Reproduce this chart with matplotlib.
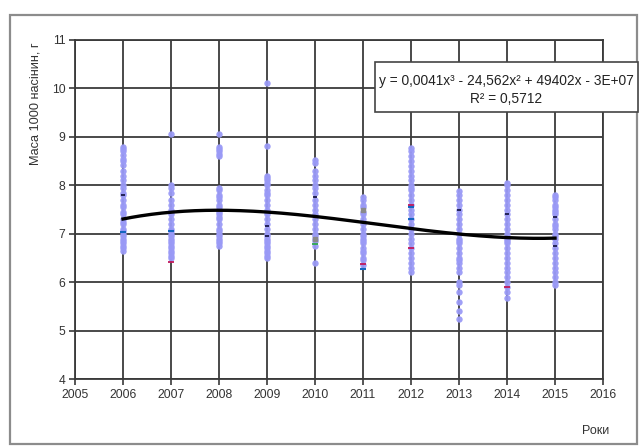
import numpy as np
import matplotlib
matplotlib.use("Agg")
import matplotlib.pyplot as plt
from matplotlib.patches import Rectangle

plt.rcParams['font.family'] = ['Liberation Sans', 'DejaVu Sans']

years = [2006, 2007, 2008, 2009, 2010, 2011, 2012, 2013, 2014, 2015]
mass = {
    2006: [8.8, 8.75, 8.7, 8.62, 8.55, 8.5, 8.42, 8.3, 8.2, 8.1, 8.0, 7.95, 7.85, 7.8, 7.7, 7.6,
           7.55, 7.45, 7.4, 7.3, 7.25, 7.2, 7.1, 7.05, 7.0, 6.95, 6.9, 6.85, 6.8, 6.75, 6.7, 6.65],
    2007: [9.05, 8.0, 7.95, 7.85, 7.7, 7.6, 7.5, 7.45, 7.4, 7.3, 7.2, 7.1, 7.05, 7.0, 6.95, 6.9,
           6.85, 6.8, 6.75, 6.7, 6.65, 6.6, 6.55, 6.5],
    2008: [9.05, 8.8, 8.75, 8.7, 8.65, 8.6, 7.95, 7.9, 7.8, 7.75, 7.7, 7.6, 7.55, 7.5, 7.45, 7.4,
           7.35, 7.3, 7.2, 7.1, 7.05, 7.0, 6.95, 6.9, 6.85, 6.8, 6.75],
    2009: [10.12, 8.82, 8.2, 8.15, 8.1, 8.05, 8.0, 7.9, 7.85, 7.8, 7.7, 7.6, 7.5, 7.45, 7.4, 7.3,
           7.2, 7.1, 7.0, 6.95, 6.9, 6.85, 6.8, 6.75, 6.7, 6.65, 6.6, 6.55, 6.5],
    2010: [8.52, 8.45, 8.3, 8.2, 8.1, 8.0, 7.95, 7.85, 7.7, 7.6, 7.5, 7.4, 7.3, 7.2, 7.1, 7.0,
           6.95, 6.9, 6.85, 6.75, 6.4],
    2011: [7.76, 7.7, 7.6, 7.55, 7.45, 7.4, 7.3, 7.2, 7.1, 7.0, 6.95, 6.9, 6.85, 6.8, 6.7, 6.65,
           6.6, 6.5, 6.45, 6.35],
    2012: [8.77, 8.7, 8.6, 8.5, 8.4, 8.3, 8.2, 8.1, 8.0, 7.95, 7.9, 7.8, 7.7, 7.6, 7.5, 7.4, 7.3,
           7.2, 7.1, 7.0, 6.9, 6.8, 6.7, 6.6, 6.5, 6.4, 6.3, 6.2],
    2013: [7.89, 7.8, 7.7, 7.6, 7.5, 7.4, 7.3, 7.2, 7.1, 7.0, 6.9, 6.85, 6.8, 6.7, 6.6, 6.5, 6.45,
           6.4, 6.3, 6.2, 6.0, 5.95, 5.8, 5.6, 5.4, 5.23],
    2014: [8.05, 8.0, 7.9, 7.8, 7.7, 7.6, 7.5, 7.4, 7.3, 7.2, 7.1, 7.0, 6.9, 6.85, 6.8, 6.7, 6.6,
           6.5, 6.4, 6.3, 6.2, 6.1, 6.0, 5.9, 5.8, 5.68],
    2015: [7.8, 7.75, 7.7, 7.6, 7.55, 7.5, 7.45, 7.4, 7.3, 7.2, 7.15, 7.1, 7.0, 6.95, 6.9, 6.8,
           6.7, 6.6, 6.5, 6.4, 6.3, 6.2, 6.1, 6.0, 5.95],
}

# accent series (other varieties)
blue_x = [2006, 2007, 2011, 2012, 2012]
blue_y = [7.04, 7.05, 6.27, 7.3, 7.55]
red_x = [2007, 2011, 2012, 2014, 2012]
red_y = [6.42, 6.38, 6.7, 5.9, 7.6]
dark_x = [2006, 2009, 2009, 2010, 2013, 2014, 2015, 2015]
dark_y = [7.8, 7.15, 6.95, 7.75, 7.5, 7.4, 6.75, 7.35]
green_x = [2010]
green_y = [6.78]
gray_x = [2011, 2010]
gray_y = [7.5, 6.9]

# polynomial trend
trend_years = [2006, 2007, 2008, 2009, 2010, 2011, 2012, 2013, 2014, 2015]
trend_vals = [7.31, 7.43, 7.49, 7.45, 7.36, 7.23, 7.11, 6.99, 6.92, 6.91]

equation = "y = 0,0041x³ - 24,562x² + 49402x - 3E+07"
r2_text = "R² = 0,5712"

W, H = 639, 448
fig = plt.figure(figsize=(W / 100, H / 100), dpi=100)
fig.patch.set_facecolor('white')

# outer chart frame
fig.patches.append(Rectangle((10 / W, 1 - 444 / H), 627 / W, 429 / H, transform=fig.transFigure,
                             fill=False, edgecolor='#8c8c8c', linewidth=1.6))

ax = fig.add_axes([75 / W, 1 - 379 / H, 528 / W, 339 / H])

for yr in years:
    ax.plot([yr] * len(mass[yr]), mass[yr], 'o', color='#9a9af6', markersize=4.6,
            markeredgewidth=0, alpha=0.95, zorder=3)

ax.plot(gray_x, gray_y, 's', color='#8a8a8a', markersize=2.6, zorder=4)
ax.plot(green_x, green_y, '_', color='#2fa84f', markersize=4, markeredgewidth=1.3, zorder=4)
ax.plot(red_x, red_y, '_', color='#c2185b', markersize=4, markeredgewidth=1.3, zorder=4)
ax.plot(dark_x, dark_y, '_', color='#1a1a4a', markersize=3.5, markeredgewidth=1.3, zorder=4)
ax.plot(blue_x, blue_y, '_', color='#1565c0', markersize=5, markeredgewidth=1.5, zorder=4)

coef = np.polyfit(np.array(trend_years) - 2010, trend_vals, 3)
xs = np.linspace(2006, 2015, 200)
ax.plot(xs, np.polyval(coef, xs - 2010), color='black', linewidth=2.4, zorder=5)

ax.set_xlim(2005, 2016)
ax.set_ylim(4, 11)
ax.set_xticks(range(2005, 2017))
ax.set_yticks(range(4, 12))
ax.grid(True, color='#3a3a3a', linewidth=1.3, zorder=1)
ax.set_axisbelow(True)
for s in ax.spines.values():
    s.set_color('#3a3a3a')
    s.set_linewidth(1.3)
ax.tick_params(axis='both', direction='out', length=4, width=1.2, color='#3a3a3a',
               labelsize=8.7, labelcolor='#333333', pad=3)

fig.text(35 / W, 1 - 104 / H, "Маса 1000 насінин, г", rotation=90, ha='center', va='center',
         fontsize=9.2, color='#333333')
fig.text(596 / W, 1 - 431 / H, "Роки", ha='center', va='center', fontsize=9, color='#333333')

# equation box
fig.patches.append(Rectangle((375 / W, 1 - 112 / H), 263 / W, 50 / H, transform=fig.transFigure,
                             facecolor='white', edgecolor='#444444', linewidth=1.2, zorder=10))
fig.text(506 / W, 1 - 81 / H, equation, ha='center', va='center', fontsize=9.9, color='#222222',
         zorder=11)
fig.text(506 / W, 1 - 99 / H, r2_text, ha='center', va='center', fontsize=9.9, color='#222222',
         zorder=11)

fig.savefig("out.png", dpi=100)
